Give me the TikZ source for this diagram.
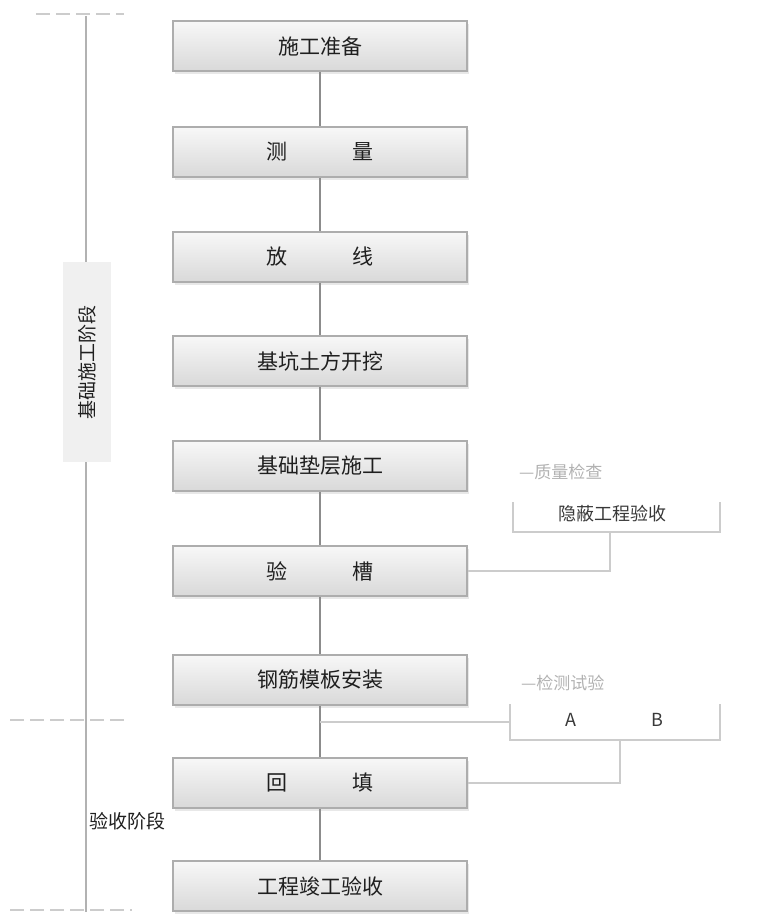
\documentclass[tikz,border=0pt]{standalone}
\usepackage{fontspec}
\setmainfont{Noto Sans CJK SC}
\usetikzlibrary{shadows}
\definecolor{boxline}{gray}{0.68}
\definecolor{linkc}{gray}{0.55}
\definecolor{faint}{gray}{0.80}
\definecolor{txt}{gray}{0.12}
\begin{document}
\begin{tikzpicture}[x=1pt,y=-1pt,
  stepbox/.style={draw=boxline, line width=1.6pt, top color=gray!6, bottom color=gray!30,
     minimum width=294pt, minimum height=50pt, inner sep=0pt,
     font=\fontsize{21pt}{24pt}\selectfont, text=txt,
     drop shadow={opacity=0.18, shadow xshift=1.5pt, shadow yshift=-3pt}},
  link/.style={draw=linkc, line width=1.6pt},
  flink/.style={draw=faint, line width=1.2pt},
  tick/.style={draw=faint, line width=1.2pt, dash pattern=on 14pt off 6pt},
  notelab/.style={font=\fontsize{17pt}{20pt}\selectfont, text=gray!60, inner sep=1pt},
  noteitem/.style={font=\fontsize{18pt}{21pt}\selectfont, text=gray!45!black, inner sep=1pt},
  phase/.style={font=\fontsize{19pt}{22pt}\selectfont, text=txt, inner sep=1pt}]
\useasboundingbox (0,0) rectangle (760,920);
% main steps
\node[stepbox] (s1) at (320,46)  {施工准备};
\node[stepbox] (s2) at (320,152) {测\hspace{3.1em}量};
\node[stepbox] (s3) at (320,257) {放\hspace{3.1em}线};
\node[stepbox] (s4) at (320,361) {基坑土方开挖};
\node[stepbox] (s5) at (320,466) {基础垫层施工};
\node[stepbox] (s6) at (320,571) {验\hspace{3.1em}槽};
\node[stepbox] (s7) at (320,680) {钢筋模板安装};
\node[stepbox] (s8) at (320,783) {回\hspace{3.1em}填};
\node[stepbox] (s9) at (320,886) {工程竣工验收};
\foreach \a/\b in {s1/s2,s2/s3,s3/s4,s4/s5,s5/s6,s6/s7,s7/s8,s8/s9}
  \draw[link] (\a.south) -- (\b.north);
% left timeline
\coordinate (ttop) at (86,16);
\coordinate (tbot) at (86,912);
\draw[draw=gray!60, line width=1.6pt] (ttop) -- (tbot);
\coordinate (k1a) at (36,14);  \coordinate (k1b) at (124,14);
\coordinate (k2a) at (10,720); \coordinate (k2b) at (126,720);
\coordinate (k3a) at (10,910); \coordinate (k3b) at (132,910);
\draw[tick] (k1a) -- (k1b);
\draw[tick] (k2a) -- (k2b);
\draw[tick] (k3a) -- (k3b);
\node[fill=gray!12, minimum width=48pt, minimum height=200pt, inner sep=0pt] (ph1) at (87,362) {};
\node[phase, rotate=90] (ph1t) at (ph1.center) {基础施工阶段};
\node[phase, anchor=west] (ph2) at (88,821) {验收阶段};
% note 1
\node[notelab, anchor=west] (n1l) at (518,472) {—质量检查};
\node[noteitem] (n1i) at (612,514) {隐蔽工程验收};
\coordinate (n1a) at (513,502);
\coordinate (n1b) at (513,532);
\coordinate (n1c) at (720,532);
\coordinate (n1d) at (720,502);
\coordinate (n1m) at (610,532);
\draw[flink] (n1a) -- (n1b) -- (n1c) -- (n1d);
\draw[flink] (s6.east) -| (n1m);
% note 2
\node[notelab, anchor=west] (n2l) at (520,683) {—检测试验};
\node[noteitem] (n2a) at (571,720) {A};
\node[noteitem] (n2b) at (657,720) {B};
\coordinate (n2p) at (510,704);
\coordinate (n2q) at (510,740);
\coordinate (n2r) at (720,740);
\coordinate (n2s) at (720,704);
\coordinate (n2m) at (620,740);
\coordinate (n2j) at (320,722);
\coordinate (n2k) at (510,722);
\draw[flink] (n2p) -- (n2q) -- (n2r) -- (n2s);
\draw[flink] (n2j) -- (n2k);
\draw[flink] (s8.east) -| (n2m);
\end{tikzpicture}
\end{document}
